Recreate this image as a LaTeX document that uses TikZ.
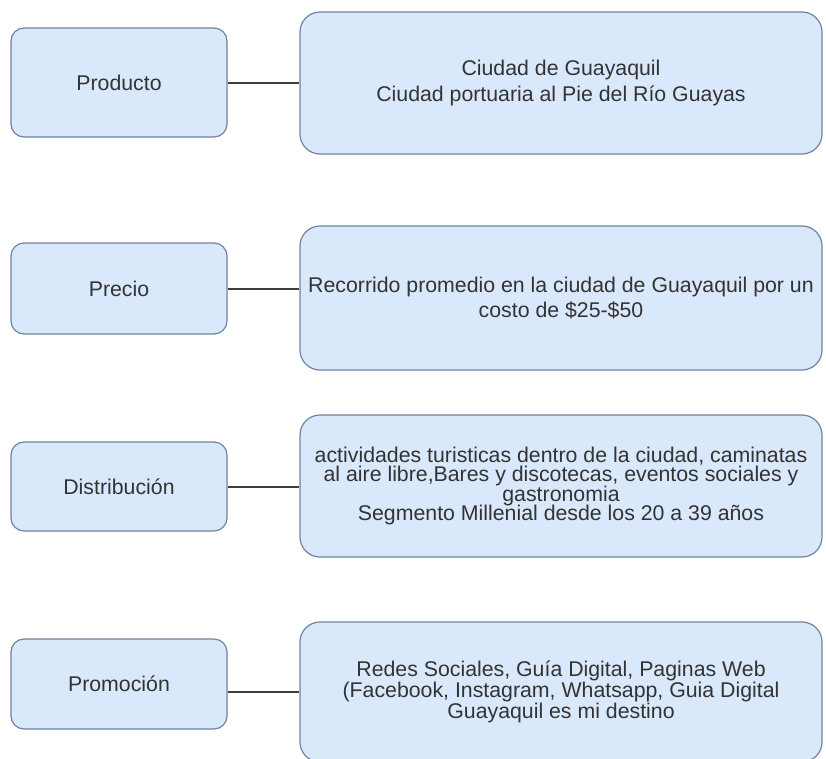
\documentclass[tikz,border=0pt]{standalone}
\usepackage{fontspec}
\setmainfont{Liberation Sans}
\usetikzlibrary{positioning,calc}
\definecolor{boxfill}{RGB}{218,232,252}
\definecolor{boxedge}{RGB}{112,132,158}
\definecolor{boxtext}{RGB}{51,51,51}
\definecolor{linkgray}{RGB}{62,62,62}

\begin{document}
\begin{tikzpicture}[x=1pt,y=-1pt,line cap=round,
  card/.style={draw=boxedge,fill=boxfill,line width=1.2pt,text=boxtext,
   align=center,inner sep=0pt},
  lbl/.style={card,rounded corners=13pt,minimum width=216pt,
   font={\fontsize{21.3}{24}\selectfont}},
  info/.style={card,rounded corners=20pt,minimum width=522pt},
  wide/.style={font={\fontsize{21.3}{25.5}\selectfont}},
  mid/.style={font={\fontsize{21.3}{21}\selectfont\lineskiplimit=-30pt}},
  tight/.style={font={\fontsize{21.3}{19.3}\selectfont\lineskiplimit=-30pt}},
  link/.style={draw=linkgray,line width=2pt,line cap=butt}]
 \useasboundingbox[fill=white] (0,0) rectangle (826,758);
 % left column
 \node[lbl,minimum height=109pt] (prod) at (119,82.5) {Producto};
 \node[lbl,minimum height=91pt] (prec) at (119,288.5) {Precio};
 \node[lbl,minimum height=89pt] (dist) at (119,486.5) {Distribución};
 \node[lbl,minimum height=90pt] (prom) at (119,684) {Promoción};
 % right column
 \node[info,wide,minimum height=142pt] (prodtxt) at (561,83)
  {Ciudad de Guayaquil\\Ciudad portuaria al Pie del Río Guayas};
 \node[info,wide,minimum height=144pt] (prectxt) at (561,298)
  {Recorrido promedio en la ciudad de Guayaquil por un\\costo de \$25-\$50};
 \node[info,tight,minimum height=142pt] (disttxt) at (561,486)
  {actividades turisticas dentro de la ciudad, caminatas\\
   al aire libre,Bares y discotecas, eventos sociales y\\
   gastronomia\\Segmento Millenial desde los 20 a 39 años};
 \node[info,mid,minimum height=140pt] (promtxt) at (561,692)
  {Redes Sociales, Guía Digital, Paginas Web\\
   (Facebook, Instagram, Whatsapp, Guia Digital\\
   Guayaquil es mi destino};
 % connectors
 \draw[link] (prod.east) -- (prod.east -| prodtxt.west);
 \draw[link] (prec.east) -- (prec.east -| prectxt.west);
 \draw[link] (dist.east) -- (dist.east -| disttxt.west);
 \draw[link] (prom.east |- promtxt.west) -- (promtxt.west);
\end{tikzpicture}
\end{document}
